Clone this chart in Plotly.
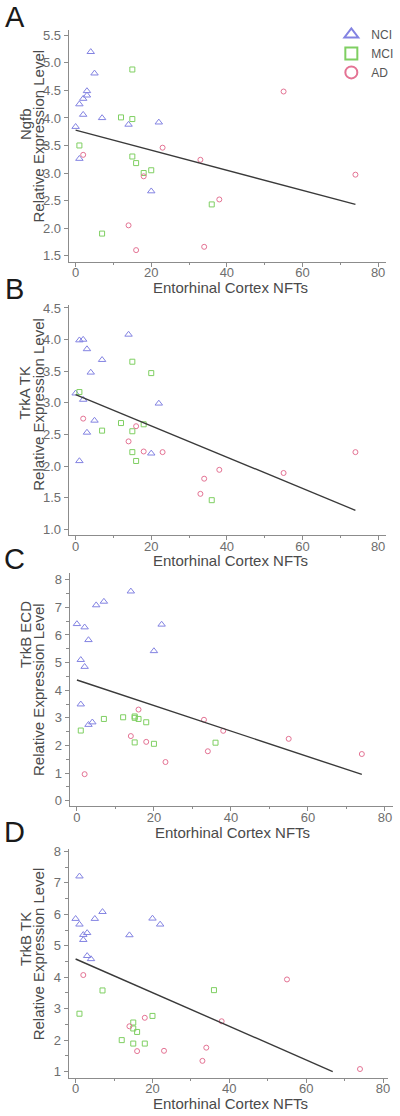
import plotly.graph_objects as go

W, H = 400, 1116

# ---------------- data ----------------
nci_x = [0, 1, 1, 2, 2, 3, 3, 4, 5, 7, 14, 20, 22]
mci_x = [1, 7, 12, 15, 15, 15, 16, 18, 20, 36]
ad_x = [2, 14, 16, 18, 23, 33, 34, 38, 55, 74]

# Panel A: Ngfb
ngfb_nci = [3.84, 4.25, 3.26, 4.35, 4.06, 4.49, 4.41, 5.20, 4.81, 4.00, 3.88, 2.67, 3.92]
ngfb_mci = [3.50, 1.90, 4.01, 4.88, 3.98, 3.30, 3.18, 3.00, 3.05, 2.43]
ngfb_ad = [3.33, 2.05, 1.60, 2.94, 3.46, 3.24, 1.66, 2.52, 4.48, 2.97]
ngfb_fit_x = [0, 74]
ngfb_fit_y = [3.78, 2.43]

# Panel B: TrkA TK
trka_nci = [3.15, 3.99, 2.08, 4.00, 3.05, 3.85, 2.53, 3.48, 2.72, 3.68, 4.08, 2.20, 2.99]
trka_mci = [3.17, 2.56, 2.68, 3.65, 2.55, 2.22, 2.08, 2.66, 3.47, 1.46]
trka_ad = [2.75, 2.39, 2.63, 2.23, 2.22, 1.56, 1.80, 1.94, 1.89, 2.22]
trka_fit_x = [0, 74]
trka_fit_y = [3.13, 1.30]

# Panel C: TrkB ECD
trkbecd_nci = [6.40, 5.10, 3.49, 6.28, 4.85, 5.82, 2.75, 2.84, 7.08, 7.21, 7.58, 5.42, 6.38]
trkbecd_mci = [2.54, 2.96, 3.02, 3.05, 3.00, 2.11, 2.96, 2.84, 2.06, 2.10]
trkbecd_ad = [0.96, 2.34, 3.30, 2.13, 1.40, 2.93, 1.79, 2.53, 2.24, 1.69]
trkbecd_fit_x = [0, 74]
trkbecd_fit_y = [4.37, 0.95]

# Panel D: TrkB TK
trkbtk_nci = [5.86, 7.21, 5.68, 5.35, 5.19, 5.41, 4.68, 4.58, 5.86, 6.08, 5.34, 5.87, 5.68]
trkbtk_mci = [2.84, 3.58, 2.00, 2.56, 2.37, 1.89, 2.26, 1.89, 2.77, 3.59]
trkbtk_ad = [4.07, 2.44, 1.65, 2.71, 1.66, 1.34, 1.76, 2.60, 3.93, 1.08]
trkbtk_fit_x = [0, 66.9]
trkbtk_fit_y = [4.58, 1.00]

group_names = ["NCI", "MCI", "AD"]
panel_letters = ["A", "B", "C", "D"]
panel_genes = ["Ngfb", "TrkA TK", "TrkB ECD", "TrkB TK"]
x_title = "Entorhinal Cortex NFTs"
y_title = "Relative Expression Level"

x_tickvals = [0, 20, 40, 60, 80]

# ---------------- styling / layout ----------------
FONT = "Liberation Sans, Arial, sans-serif"
COL_NCI = "#8383e2"
COL_MCI = "#7fcf62"
COL_AD = "#e47394"
AXC = "#8c8c8c"
TICKC = "#6e6e6e"
TITLEC = "#4a4a4a"

panels = [
    dict(nci=ngfb_nci, mci=ngfb_mci, ad=ngfb_ad, fx=ngfb_fit_x, fy=ngfb_fit_y,
         xpx=(69, 388), ypx=(25, 258.3), xr=(-1.84, 82.1), yr=(1.39, 5.60),
         dtick=0.5, fmt=".1f", minor=None,
         letter_y=12.5, gene_y=120, rel_y=132, xt_y=284, xt_x=232),
    dict(nci=trka_nci, mci=trka_mci, ad=trka_ad, fx=trka_fit_x, fy=trka_fit_y,
         xpx=(69, 388), ypx=(301.7, 533.3), xr=(-1.84, 82.1), yr=(0.91, 4.55),
         dtick=0.5, fmt=".1f", minor=None,
         letter_y=286, gene_y=390, rel_y=402, xt_y=559, xt_x=232),
    dict(nci=trkbecd_nci, mci=trkbecd_mci, ad=trkbecd_ad, fx=trkbecd_fit_x, fy=trkbecd_fit_y,
         xpx=(70, 395), ypx=(571.7, 806), xr=(-1.89, 82.1), yr=(-0.19, 8.24),
         dtick=1, fmt="d", minor=0.5,
         letter_y=557, gene_y=633, rel_y=689, xt_y=833, xt_x=234),
    dict(nci=trkbtk_nci, mci=trkbtk_mci, ad=trkbtk_ad, fx=trkbtk_fit_x, fy=trkbtk_fit_y,
         xpx=(69, 390), ypx=(849.3, 1079.3), xr=(-1.81, 81.3), yr=(0.81, 8.08),
         dtick=1, fmt="d", minor=0.5,
         letter_y=832, gene_y=940, rel_y=955, xt_y=1105, xt_x=232),
]


def px(x):
    return x / W


def py(y):
    return 1 - y / H


fig = go.Figure()
annotations = []

for i, p in enumerate(panels):
    n = "" if i == 0 else str(i + 1)
    xa, ya = "x" + n, "y" + n
    show = i == 0
    fig.add_trace(go.Scatter(
        x=nci_x, y=p["nci"], mode="markers", name=group_names[0], showlegend=show,
        xaxis=xa, yaxis=ya, legendgroup="nci",
        marker=dict(symbol="triangle-up-open", size=6.5, color=COL_NCI, line=dict(width=1, color=COL_NCI))))
    fig.add_trace(go.Scatter(
        x=mci_x, y=p["mci"], mode="markers", name=group_names[1], showlegend=show,
        xaxis=xa, yaxis=ya, legendgroup="mci",
        marker=dict(symbol="square-open", size=5, color=COL_MCI, line=dict(width=1, color=COL_MCI))))
    fig.add_trace(go.Scatter(
        x=ad_x, y=p["ad"], mode="markers", name=group_names[2], showlegend=show,
        xaxis=xa, yaxis=ya, legendgroup="ad",
        marker=dict(symbol="circle-open", size=5, color=COL_AD, line=dict(width=1, color=COL_AD))))
    fig.add_trace(go.Scatter(
        x=p["fx"], y=p["fy"], mode="lines", showlegend=False, xaxis=xa, yaxis=ya,
        line=dict(color="#3a3a3a", width=1.4), hoverinfo="skip"))

    xdom = [px(p["xpx"][0]), px(p["xpx"][1])]
    ydom = [py(p["ypx"][1]), py(p["ypx"][0])]
    xaxis = dict(
        domain=xdom, anchor=ya, range=list(p["xr"]), showline=True, linecolor=AXC, linewidth=1,
        ticks="outside", ticklen=4, tickcolor=AXC, tickwidth=1, tickvals=x_tickvals,
        ticklabelstandoff=-5,
        tickfont=dict(family=FONT, size=13, color=TICKC), showgrid=False, zeroline=False,
        minor=dict(tickvals=[10, 30, 50, 70], ticks="outside", ticklen=2.5, tickcolor=AXC, showgrid=False),
        fixedrange=True)
    yaxis = dict(
        domain=ydom, anchor=xa, range=list(p["yr"]), showline=True, linecolor=AXC, linewidth=1,
        ticks="outside", ticklen=4, tickcolor=AXC, tickwidth=1, tick0=0, dtick=p["dtick"],
        tickformat=p["fmt"], tickfont=dict(family=FONT, size=13, color=TICKC),
        showgrid=False, zeroline=False, fixedrange=True)
    if p["minor"]:
        yaxis["minor"] = dict(dtick=p["minor"], ticks="outside", ticklen=2.5, tickcolor=AXC, showgrid=False)
    fig.layout["xaxis" + n] = xaxis
    fig.layout["yaxis" + n] = yaxis

    # panel letter
    annotations.append(dict(text=panel_letters[i], xref="paper", yref="paper",
                            x=px(15), y=py(p["letter_y"]), xanchor="center", yanchor="middle",
                            showarrow=False, font=dict(family=FONT, size=29, color="#1a1a1a")))
    # y titles (two lines)
    annotations.append(dict(text=panel_genes[i], xref="paper", yref="paper",
                            x=px(25), y=py(p["gene_y"]), xanchor="center", yanchor="middle",
                            textangle=-90, showarrow=False,
                            font=dict(family=FONT, size=15, color=TITLEC)))
    annotations.append(dict(text=y_title, xref="paper", yref="paper",
                            x=px(38.5), y=py(p["rel_y"]), xanchor="center", yanchor="middle",
                            textangle=-90, showarrow=False,
                            font=dict(family=FONT, size=15, color=TITLEC)))
    # x title
    annotations.append(dict(text=x_title, xref="paper", yref="paper",
                            x=px(p["xt_x"]), y=py(p["xt_y"]), xanchor="center", yanchor="middle",
                            showarrow=False, font=dict(family=FONT, size=15, color=TITLEC)))

fig.update_layout(
    width=W, height=H, margin=dict(l=0, r=0, t=0, b=0),
    paper_bgcolor="white", plot_bgcolor="white",
    showlegend=True,
    legend=dict(x=px(333), y=py(15), xanchor="left", yanchor="top",
                bgcolor="rgba(0,0,0,0)", borderwidth=0, itemsizing="constant",
                font=dict(family=FONT, size=12, color="#555555"), tracegroupgap=0),
    annotations=annotations,
)

fig.write_html("out.html", config={"displayModeBar": False},
               post_script="document.body.style.margin='0';document.body.style.overflow='hidden';")
